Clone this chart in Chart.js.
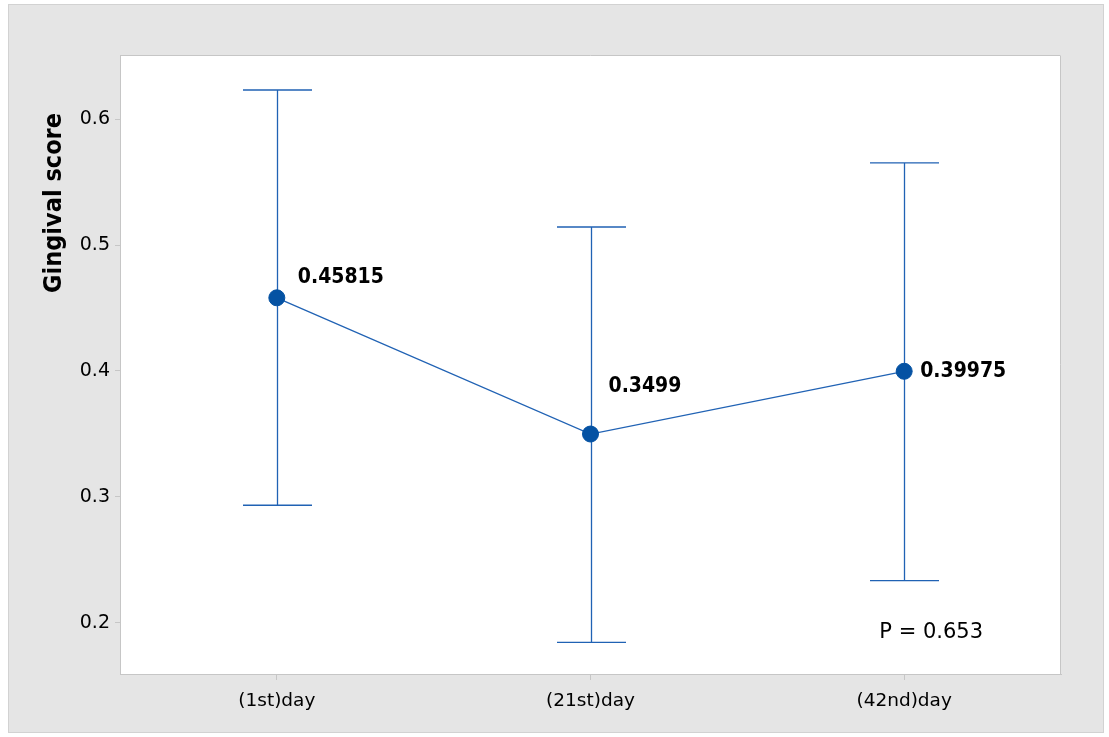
<!DOCTYPE html>
<html>
<head>
<meta charset="utf-8">
<script src="https://cdn.jsdelivr.net/npm/chart.js@4.4.1/dist/chart.umd.min.js"></script>
<style>
  html, body { margin: 0; padding: 0; background: #ffffff; }
  #wrap { width: 1109px; height: 737px; position: relative; }
</style>
</head>
<body>
<div id="wrap"><canvas id="c" width="1109" height="737"></canvas></div>
<script>
// Visit days and mean gingival scores with 95% CI bounds
const days = ['(1st)day', '(21st)day', '(42nd)day'];
const means = [0.45815, 0.3499, 0.39975];
const upperCI = [0.6233, 0.5144, 0.5653];
const lowerCI = [0.2933, 0.1844, 0.2334];
const yTicks = [0.2, 0.3, 0.4, 0.5, 0.6];
const yTitle = 'Gingival score';
const pText = 'P = 0.653';

// label placement relative to each point (dx, dy of baseline)
const labelOffsets = [[21, -15], [18, -42], [16, 6]];

const LINE_BLUE = '#2062b4';
const DOT_BLUE = '#0552a3';
const FRAME = '#c6c6c6';

const panelPlugin = {
  id: 'panel',
  beforeDraw(chart) {
    const ctx = chart.ctx;
    const a = chart.chartArea;
    ctx.save();
    ctx.fillStyle = '#e5e5e5';
    ctx.fillRect(8, 4, 1096, 729);
    ctx.strokeStyle = '#d2d2d2';
    ctx.lineWidth = 1;
    ctx.strokeRect(8.5, 4.5, 1095, 728);
    ctx.fillStyle = '#ffffff';
    ctx.fillRect(a.left, a.top, a.right - a.left, a.bottom - a.top);
    ctx.restore();
  },
  afterDraw(chart) {
    const ctx = chart.ctx;
    const a = chart.chartArea;
    ctx.save();
    ctx.strokeStyle = FRAME;
    ctx.lineWidth = 1;
    ctx.beginPath();
    ctx.moveTo(a.left, a.top + 0.5);
    ctx.lineTo(a.right - 0.5, a.top + 0.5);
    ctx.lineTo(a.right - 0.5, a.bottom);
    ctx.stroke();
    // axis title
    ctx.fillStyle = '#000000';
    ctx.font = "bold 25px 'DejaVu Sans Condensed', 'Open Sans', sans-serif";
    ctx.translate(61, 203);
    ctx.rotate(-Math.PI / 2);
    ctx.textAlign = 'center';
    ctx.textBaseline = 'alphabetic';
    ctx.fillText(yTitle, 0, 0);
    ctx.restore();
    // p-value note
    ctx.save();
    ctx.fillStyle = '#000000';
    ctx.font = "21px 'DejaVu Sans', sans-serif";
    ctx.textAlign = 'center';
    ctx.textBaseline = 'alphabetic';
    ctx.fillText(pText, chart.scales.x.getPixelForValue(2) + 27, 638);
    ctx.restore();
  }
};

const errorBarPlugin = {
  id: 'errorBars',
  beforeDatasetsDraw(chart) {
    const ctx = chart.ctx;
    const x = chart.scales.x, y = chart.scales.y;
    ctx.save();
    ctx.strokeStyle = LINE_BLUE;
    ctx.lineWidth = 1.3;
    days.forEach((d, i) => {
      const px = Math.round(x.getPixelForValue(i)) + 0.5;
      const yu = y.getPixelForValue(upperCI[i]);
      const yl = y.getPixelForValue(lowerCI[i]);
      const half = 34.5;
      ctx.beginPath();
      ctx.moveTo(px, yu); ctx.lineTo(px, yl);
      ctx.moveTo(px - half, yu); ctx.lineTo(px + half, yu);
      ctx.moveTo(px - half, yl); ctx.lineTo(px + half, yl);
      ctx.stroke();
    });
    ctx.restore();
  },
  afterDatasetsDraw(chart) {
    const ctx = chart.ctx;
    const x = chart.scales.x, y = chart.scales.y;
    ctx.save();
    ctx.fillStyle = '#000000';
    ctx.font = "bold 21px 'DejaVu Sans Condensed', 'Open Sans', sans-serif";
    ctx.textAlign = 'left';
    ctx.textBaseline = 'alphabetic';
    means.forEach((m, i) => {
      const px = x.getPixelForValue(i);
      const py = y.getPixelForValue(m);
      ctx.fillText(String(m), px + labelOffsets[i][0], py + labelOffsets[i][1]);
    });
    ctx.restore();
  }
};

new Chart(document.getElementById('c'), {
  type: 'line',
  data: {
    labels: days,
    datasets: [{
      data: means,
      borderColor: LINE_BLUE,
      borderWidth: 1.3,
      pointRadius: 8,
      pointHoverRadius: 8,
      pointBackgroundColor: DOT_BLUE,
      pointBorderColor: DOT_BLUE,
      pointBorderWidth: 1,
      tension: 0
    }]
  },
  options: {
    responsive: false,
    animation: false,
    events: [],
    layout: { padding: { left: 0, top: 55, right: 48, bottom: 0 } },
    plugins: { legend: { display: false }, tooltip: { enabled: false } },
    scales: {
      x: {
        type: 'category',
        offset: true,
        grid: { drawOnChartArea: false, drawTicks: true, tickLength: 6, color: FRAME, offset: false },
        border: { display: true, color: FRAME, width: 1 },
        ticks: {
          color: '#000000',
          padding: 10,
          font: { family: "'DejaVu Sans', sans-serif", size: 18.5 }
        },
        afterFit(s) { s.height = 63; }
      },
      y: {
        type: 'linear',
        min: 0.1592,
        max: 0.6511,
        grid: { drawOnChartArea: false, drawTicks: true, tickLength: 5, color: FRAME },
        border: { display: true, color: FRAME, width: 1 },
        afterBuildTicks(s) { s.ticks = yTicks.map(v => ({ value: v })); },
        ticks: {
          color: '#000000',
          padding: 5,
          font: { family: "'DejaVu Sans', sans-serif", size: 19 },
          callback: v => v.toFixed(1)
        },
        afterFit(s) { s.width = 120; }
      }
    }
  },
  plugins: [panelPlugin, errorBarPlugin]
});
</script>
</body>
</html>
